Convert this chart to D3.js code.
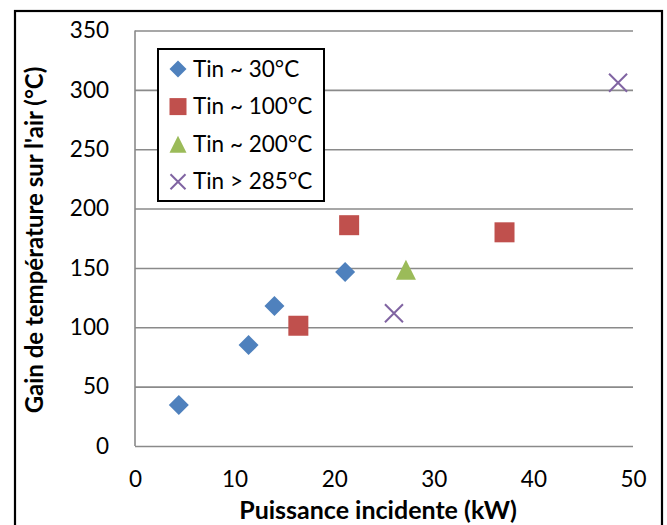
<!DOCTYPE html>
<html>
<head>
<meta charset="utf-8">
<script src="https://cdn.jsdelivr.net/npm/d3@7"></script>
<style>
  body { margin: 0; background: #fff; }
  text { font-family: Lato, "Open Sans", sans-serif; }
</style>
</head>
<body>
<div id="chart-container"></div>
<script>
// series data: [puissance kW, gain °C]
const tin30 = [[4.4, 34.5], [11.4, 85], [14.0, 118], [21.1, 146.6]];
const tin100 = [[16.4, 101.3], [21.5, 186], [37.1, 180]];
const tin200 = [[27.2, 148.5]];
const tin285 = [[26.0, 111.8], [48.5, 306]];

const seriesNames = ["Tin ~ 30°C", "Tin ~ 100°C", "Tin ~ 200°C", "Tin > 285°C"];
const xTicks = [0, 10, 20, 30, 40, 50];
const yTicks = [0, 50, 100, 150, 200, 250, 300, 350];

const margin = { top: 30.5, right: 34, bottom: 79, left: 135 };
const width = 667 - margin.left - margin.right;
const height = 525 - margin.top - margin.bottom;

const x = d3.scaleLinear().domain([0, 50]).range([0, width]);
const y = d3.scaleLinear().domain([0, 350]).range([height, 0]);

const svgRoot = d3.select("#chart-container")
  .append("svg")
    .attr("width", 667)
    .attr("height", 525);

// outer frame
svgRoot.append("rect")
  .attr("x", 15).attr("y", 11)
  .attr("width", 647).attr("height", 530)
  .attr("fill", "#fff")
  .attr("stroke", "#000")
  .attr("stroke-width", 2.2);

const svg = svgRoot.append("g")
  .attr("transform", `translate(${margin.left},${margin.top})`);

// gridlines + y labels
const yAxis = svg.append("g")
  .call(d3.axisLeft(y).tickValues(yTicks).tickSize(-width).tickPadding(26).tickFormat(d3.format("d")));
yAxis.select(".domain").remove();
yAxis.selectAll(".tick line").attr("stroke", "#8a8a8a").attr("stroke-width", 1.6);
yAxis.selectAll(".tick text")
  .attr("font-size", 22.5).attr("fill", "#000")
  .attr("font-family", "Lato, sans-serif");

// vertical axis line
svg.append("line")
  .attr("x1", 0).attr("x2", 0)
  .attr("y1", 0).attr("y2", height)
  .attr("stroke", "#8a8a8a").attr("stroke-width", 1.6);

// x labels
const xAxis = svg.append("g")
  .attr("transform", `translate(0,${height})`)
  .call(d3.axisBottom(x).tickValues(xTicks).tickSize(0).tickPadding(25));
xAxis.select(".domain").remove();
xAxis.selectAll(".tick text")
  .attr("font-size", 22.5).attr("fill", "#000")
  .attr("font-family", "Lato, sans-serif");

// axis titles
svgRoot.append("text")
  .attr("x", 378).attr("y", 519)
  .attr("text-anchor", "middle")
  .attr("font-size", 25).attr("font-weight", "bold")
  .text("Puissance incidente (kW)");

svgRoot.append("text")
  .attr("transform", "translate(43,240) rotate(-90)")
  .attr("text-anchor", "middle")
  .attr("font-size", 24).attr("font-weight", "bold")
  .text("Gain de température sur l'air (°C)");

// marker shapes
const colors = ["#4f81bd", "#c0504d", "#9bbb59", "#8064a2"];
function diamond(g, s) {
  g.append("path").attr("d", `M0,${-s}L${s},0L0,${s}L${-s},0Z`).attr("fill", colors[0]);
}
function square(g, s) {
  g.append("rect").attr("x", -s).attr("y", -s).attr("width", 2 * s).attr("height", 2 * s).attr("fill", colors[1]);
}
function triangle(g, s) {
  g.append("path").attr("d", `M0,${-s}L${s},${s}L${-s},${s}Z`).attr("fill", colors[2]);
}
function cross(g, s) {
  g.append("path").attr("d", `M${-s},${-s}L${s},${s}M${s},${-s}L${-s},${s}`)
    .attr("stroke", colors[3]).attr("stroke-width", 2).attr("fill", "none");
}
const shapes = [diamond, square, triangle, cross];
const markerSize = [10, 10, 10, 9];

[tin30, tin100, tin200, tin285].forEach((data, i) => {
  svg.append("g").selectAll("g")
    .data(data)
    .join("g")
      .attr("transform", d => `translate(${x(d[0])},${y(d[1])})`)
      .each(function() { shapes[i](d3.select(this), markerSize[i]); });
});

// legend
const legend = svgRoot.append("g");
legend.append("rect")
  .attr("x", 158).attr("y", 49)
  .attr("width", 166).attr("height", 152)
  .attr("fill", "#fff").attr("stroke", "#000").attr("stroke-width", 2);

seriesNames.forEach((name, i) => {
  const cy = 69 + i * 37.6;
  const g = legend.append("g").attr("transform", `translate(178,${cy})`);
  shapes[i](g, i === 3 ? 7.5 : 8.5);
  legend.append("text")
    .attr("x", 193).attr("y", cy + 7.5)
    .attr("font-size", 22.5)
    .text(name);
});
</script>
</body>
</html>
